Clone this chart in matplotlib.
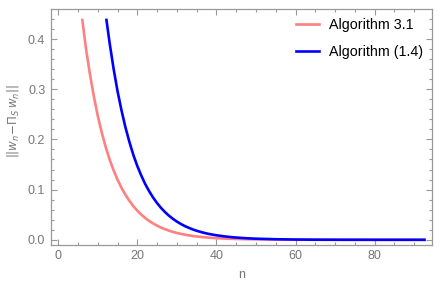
import matplotlib
matplotlib.use("Agg")
import matplotlib.pyplot as plt
from matplotlib.ticker import MultipleLocator, FormatStrFormatter

# values
n_alg31 = [6.1, 7, 8, 9, 10, 11, 12, 13, 14, 15, 16, 17, 18, 19, 20, 21, 22, 23, 24, 25,
           26, 27, 28, 29, 30, 31, 32, 33, 34, 35, 36, 38, 40, 43, 46, 50, 55, 60, 70, 92.6]
err_alg31 = [0.438, 0.382, 0.331, 0.286, 0.247, 0.214, 0.185, 0.160, 0.1384, 0.1197,
             0.1036, 0.0896, 0.0775, 0.0670, 0.0580, 0.0502, 0.0434, 0.0375, 0.0325, 0.0281,
             0.0243, 0.0210, 0.0182, 0.0157, 0.0136, 0.0118, 0.0102, 0.0088, 0.0076, 0.0066,
             0.0057, 0.0043, 0.0032, 0.0021, 0.0014, 0.0008, 0.0004, 0.0002, 0.0, 0.0]

n_alg14 = [12.2, 13, 14, 15, 16, 17, 18, 19, 20, 21, 22, 23, 24, 25, 26, 27, 28, 29, 30,
           31, 32, 33, 34, 35, 36, 37, 38, 39, 40, 42, 44, 46, 48, 50, 55, 60, 65, 70, 80, 92.6]
err_alg14 = [0.438, 0.392, 0.341, 0.296, 0.258, 0.224, 0.195, 0.169, 0.147, 0.128, 0.111,
             0.0967, 0.0841, 0.0731, 0.0635, 0.0552, 0.0480, 0.0418, 0.0363, 0.0316, 0.0274,
             0.0239, 0.0207, 0.0180, 0.0157, 0.0136, 0.0118, 0.0103, 0.0090, 0.0068, 0.0051,
             0.0039, 0.0029, 0.0022, 0.0011, 0.0005, 0.0002, 0.0001, 0.0, 0.0]

labels = ["Algorithm 3.1", "Algorithm (1.4)"]

plt.rcParams['font.family'] = ['Liberation Sans', 'DejaVu Sans']
plt.rcParams['mathtext.fontset'] = 'dejavusans'

fig = plt.figure(figsize=(4.39, 2.84), dpi=100)
ax = fig.add_axes([0.116, 0.138, 0.868, 0.830])

ax.plot(n_alg31, err_alg31, color='#ff8080', lw=1.9, label=labels[0])
ax.plot(n_alg14, err_alg14, color='#0000ff', lw=1.9, label=labels[1])

ax.set_xlim(-1.84, 94.5)
ax.set_ylim(-0.01, 0.4596)

ax.xaxis.set_major_locator(MultipleLocator(20))
ax.xaxis.set_minor_locator(MultipleLocator(5))
ax.yaxis.set_major_locator(MultipleLocator(0.1))
ax.yaxis.set_minor_locator(MultipleLocator(0.02))
ax.yaxis.set_major_formatter(FormatStrFormatter('%.1f'))

gray = '#999999'
for s in ax.spines.values():
    s.set_color(gray)
    s.set_linewidth(0.9)
ax.tick_params(which='both', direction='in', top=True, right=True, color=gray,
               labelcolor='#777777', labelsize=9, width=0.8)
ax.tick_params(which='major', length=4, pad=4)
ax.tick_params(which='minor', length=2)

ax.set_xlabel('n', color='#777777', fontsize=9, labelpad=5)
ax.set_ylabel(r'$||w_n\!-\!\Pi_S\, w_n||$', color='#777777', fontsize=8.5)
ax.yaxis.set_label_coords(-0.078, 0.525)

ax.legend(loc='upper right', frameon=False, fontsize=10.3, handlelength=1.6,
          handletextpad=0.75, borderaxespad=0.2, labelspacing=0.9)

fig.savefig('out.png', dpi=100)
